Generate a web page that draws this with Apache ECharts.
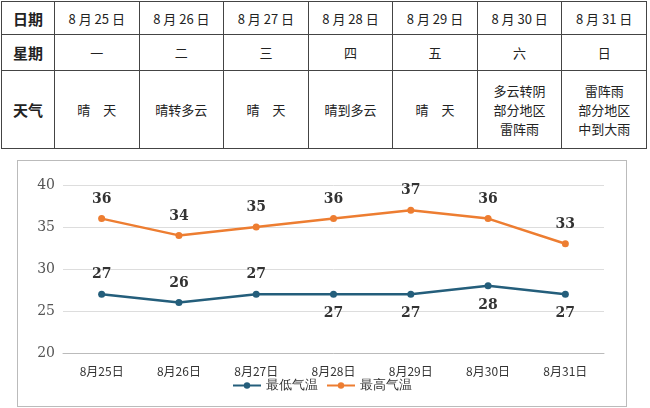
<!DOCTYPE html>
<html><head><meta charset="utf-8">
<script src="https://cdn.jsdelivr.net/npm/echarts@6/dist/echarts.min.js"></script>
<style>
body{margin:0;width:650px;height:408px;background:#fff;font-family:"Noto Sans CJK SC",sans-serif;overflow:hidden}
table{position:absolute;left:1px;top:1px;border-collapse:collapse;width:646px;font-size:13px;color:#222}
td{border:1px solid #444;text-align:center;padding:0}
td.h{font-weight:bold;font-size:15px;width:52px}
#chart{position:absolute;left:17px;top:160px;width:610px;height:247px;border:1px solid #bbb;box-sizing:border-box}
</style></head><body>
<table id="tbl"></table>
<div id="chart"></div>
<script>
const dates = ['8月25日','8月26日','8月27日','8月28日','8月29日','8月30日','8月31日'];
const tableDates = ['8 月 25 日','8 月 26 日','8 月 27 日','8 月 28 日','8 月 29 日','8 月 30 日','8 月 31 日'];
const weekdays = ['一','二','三','四','五','六','日'];
const weather = ['晴　天','晴转多云','晴　天','晴到多云','晴　天','多云转阴<br>部分地区<br>雷阵雨','雷阵雨<br>部分地区<br>中到大雨'];
const lowTemp = [27,26,27,27,27,28,27];
const highTemp = [36,34,35,36,37,36,33];
const lowLabelBelow = [false,false,false,true,true,true,true];

const rows = [['日期',tableDates,33],['星期',weekdays,36],['天气',weather,78]];
document.getElementById('tbl').innerHTML = rows.map(r =>
  `<tr style="height:${r[2]}px"><td class="h">${r[0]}</td>${r[1].map(v=>`<td>${v}</td>`).join('')}</tr>`).join('');

const chart = echarts.init(document.getElementById('chart'));
const lbl = {show:true,fontFamily:'DejaVu Serif',fontWeight:'bold',fontSize:14,color:'#333',distance:9};
chart.setOption({
  animation:false,
  grid:{left:45,right:22,top:24,bottom:53},
  legend:{bottom:9,itemWidth:28,itemHeight:8,textStyle:{fontSize:13,color:'#333'},data:['最低气温','最高气温']},
  xAxis:{type:'category',data:dates,axisTick:{show:false},axisLine:{lineStyle:{color:'#bbb'}},
    axisLabel:{fontFamily:'Noto Sans CJK SC',fontSize:12,color:'#333',margin:12}},
  yAxis:{type:'value',min:20,max:40,interval:5,axisLine:{show:false},axisTick:{show:false},
    splitLine:{lineStyle:{color:'#ddd'}},axisLabel:{fontFamily:'DejaVu Serif',fontSize:14,color:'#555'}},
  series:[
    {name:'最低气温',type:'line',data:lowTemp.map((v,i)=>({value:v,label:{position:lowLabelBelow[i]?'bottom':'top'}})),
      color:'#245e7b',lineStyle:{width:2.5},symbol:'circle',symbolSize:7,label:lbl},
    {name:'最高气温',type:'line',data:highTemp,color:'#ed7d31',lineStyle:{width:2.5},symbol:'circle',symbolSize:7,
      label:Object.assign({position:'top'},lbl)}
  ]
});
</script></body></html>
